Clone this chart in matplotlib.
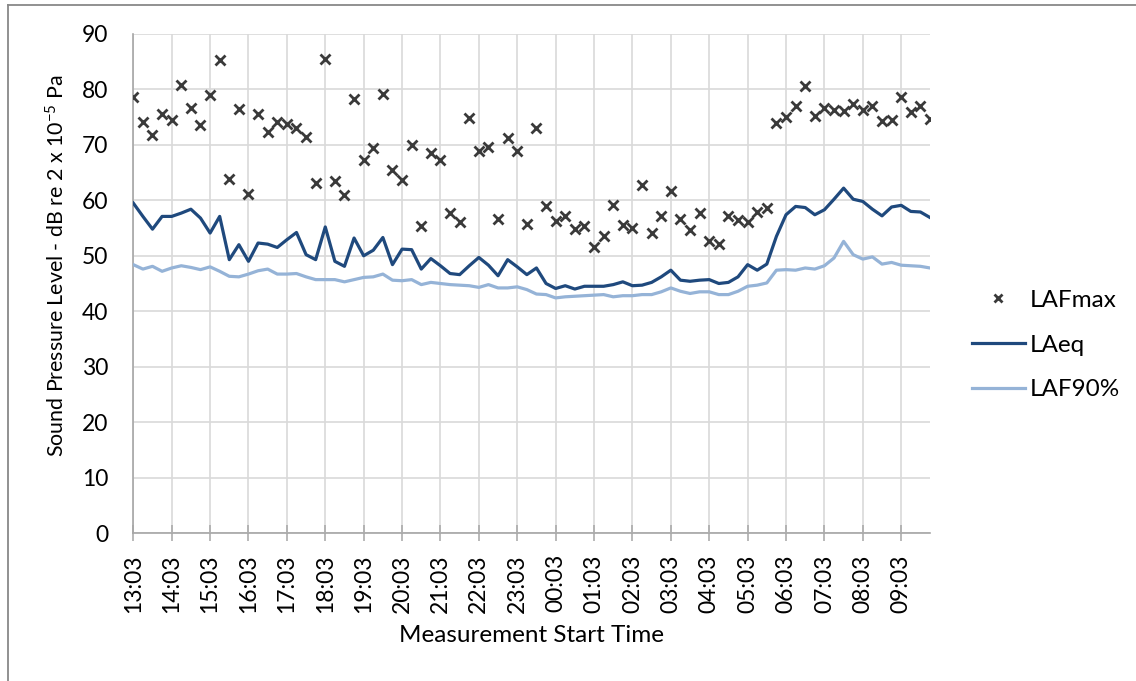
import numpy as np
import matplotlib
matplotlib.use("Agg")
import matplotlib.pyplot as plt
from matplotlib.lines import Line2D

plt.rcParams['font.family'] = ['Lato', 'DejaVu Sans']
plt.rcParams['mathtext.default'] = 'regular'

hour_labels = ["13:03", "14:03", "15:03", "16:03", "17:03", "18:03", "19:03",
               "20:03", "21:03", "22:03", "23:03", "00:03", "01:03", "02:03",
               "03:03", "04:03", "05:03", "06:03", "07:03", "08:03", "09:03"]

lafmax = [78.6, 74.1, 71.8, 75.5, 74.5, 80.8, 76.6, 73.6, 79.0, 85.4,
          63.8, 76.4, 61.2, 75.5, 72.3, 74.1, 73.8, 73.1, 71.5, 63.1,
          85.5, 63.4, 61.0, 78.3, 67.3, 69.5, 79.1, 65.5, 63.7, 70.0,
          55.3, 68.5, 67.3, 57.7, 56.1, 74.9, 68.9, 69.7, 56.7, 71.3,
          68.9, 55.8, 73.0, 58.9, 56.3, 57.1, 54.9, 55.3, 51.5, 53.6,
          59.2, 55.6, 55.1, 62.8, 54.1, 57.1, 61.6, 56.6, 54.7, 57.7,
          52.7, 52.2, 57.1, 56.5, 56.1, 57.9, 58.7, 73.9, 75.0, 77.1,
          80.6, 75.2, 76.6, 76.3, 76.1, 77.4, 76.3, 77.0, 74.3, 74.5,
          78.7, 75.9, 77.0, 74.7]

laeq = [59.5, 57.1, 54.8, 57.1, 57.1, 57.7, 58.4, 56.8, 54.1, 57.1,
        49.3, 52.0, 49.0, 52.3, 52.1, 51.5, 52.9, 54.2, 50.2, 49.3,
        55.2, 49.0, 48.1, 53.2, 50.0, 51.0, 53.3, 48.4, 51.2, 51.1,
        47.6, 49.5, 48.2, 46.8, 46.6, 48.2, 49.7, 48.3, 46.4, 49.3,
        48.0, 46.6, 47.8, 45.0, 44.1, 44.6, 44.0, 44.5, 44.5, 44.5,
        44.8, 45.3, 44.6, 44.7, 45.2, 46.2, 47.4, 45.6, 45.4, 45.6,
        45.7, 45.0, 45.2, 46.2, 48.4, 47.4, 48.5, 53.5, 57.4, 58.9,
        58.7, 57.4, 58.3, 60.2, 62.2, 60.2, 59.8, 58.4, 57.2, 58.8,
        59.1, 58.0, 57.9, 56.9]

laf90 = [48.4, 47.6, 48.1, 47.2, 47.8, 48.2, 47.9, 47.5, 48.0, 47.2,
         46.3, 46.2, 46.7, 47.3, 47.6, 46.7, 46.7, 46.8, 46.2, 45.7,
         45.7, 45.7, 45.3, 45.7, 46.1, 46.2, 46.7, 45.6, 45.5, 45.7,
         44.8, 45.2, 45.0, 44.8, 44.7, 44.6, 44.3, 44.8, 44.2, 44.2,
         44.4, 43.9, 43.1, 43.0, 42.4, 42.6, 42.7, 42.8, 42.9, 43.0,
         42.6, 42.8, 42.8, 43.0, 43.0, 43.5, 44.2, 43.6, 43.2, 43.5,
         43.5, 43.0, 43.0, 43.6, 44.5, 44.7, 45.1, 47.4, 47.5, 47.4,
         47.8, 47.6, 48.2, 49.6, 52.6, 50.2, 49.4, 49.8, 48.5, 48.8,
         48.3, 48.2, 48.1, 47.8]

W, H = 1136, 681
fig = plt.figure(figsize=(W / 100, H / 100), dpi=100)
ax = fig.add_axes([133.3 / W, 1 - 533 / H, (930 - 133.3) / W, (533 - 34) / H])

x = np.arange(len(laeq))
ax.plot(x, lafmax, linestyle='none', marker='x', markersize=6.5,
        markeredgewidth=2.0, color='#3a3a3a', label='LAFmax', zorder=4)
ax.plot(x, laeq, color='#1F497D', lw=2.3, label='LAeq', zorder=3,
        solid_joinstyle='round')
ax.plot(x, laf90, color='#95B3D7', lw=2.3, label='LAF90%', zorder=3,
        solid_joinstyle='round')

ax.set_xlim(0, len(laeq) - 1)
ax.set_ylim(0, 90)
ax.set_yticks(np.arange(0, 91, 10))
ax.set_xticks(np.arange(0, 4 * len(hour_labels), 4))
ax.set_xticklabels(hour_labels, rotation=90, fontsize=16.5)
ax.tick_params(axis='y', length=0, pad=18, labelsize=16.5)
ax.tick_params(axis='x', direction='inout', length=11.5, width=1.1,
               color='#A6A6A6', pad=9.5)

ax.grid(True, color='#D9D9D9', lw=1.2)
ax.set_axisbelow(True)
for s in ['top', 'right']:
    ax.spines[s].set_visible(False)
for s in ['left', 'bottom']:
    ax.spines[s].set_color('#A6A6A6')
    ax.spines[s].set_linewidth(1.2)

fig.text(57 / W, 1 - 266 / H, "Sound Pressure Level - dB re 2 x 10$^{-5}$ Pa",
         rotation=90, ha='center', va='center', fontsize=15.4)
fig.text(531.5 / W, 1 - 636 / H, "Measurement Start Time",
         ha='center', va='center', fontsize=17.5)

handles, labels = ax.get_legend_handles_labels()
fig.legend(handles, labels, loc='center left',
           bbox_to_anchor=(972 / W, 1 - 345 / H), frameon=False,
           fontsize=17.5, borderaxespad=0, borderpad=0, handlelength=2.18,
           handletextpad=0.2, labelspacing=0.97, markerscale=0.8)

# outer chart border (top and left visible)
fig.add_artist(Line2D([8 / W, 1], [1 - 5 / H, 1 - 5 / H], color='#888888', lw=1.3))
fig.add_artist(Line2D([8 / W, 8 / W], [0, 1 - 5 / H], color='#888888', lw=1.3))

fig.savefig("out.png", dpi=100, facecolor='white')
